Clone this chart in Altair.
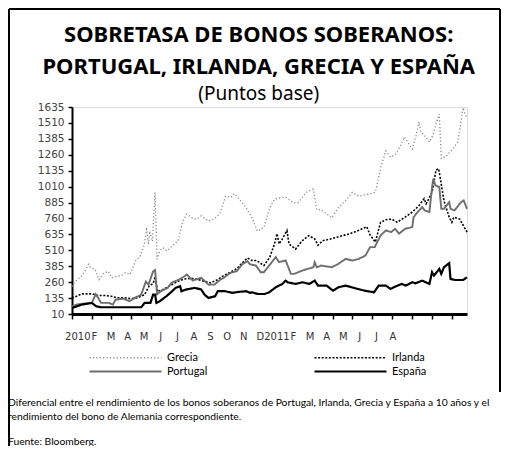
import altair as alt
import pandas as pd

# ---------------- data ----------------
grecia_fechas = ["2010-01-01","2010-01-06","2010-01-14","2010-01-21","2010-01-26","2010-01-29","2010-02-05","2010-02-11",
    "2010-02-18","2010-02-25","2010-03-02","2010-03-10","2010-03-18","2010-03-23","2010-03-30","2010-04-07","2010-04-14",
    "2010-04-21","2010-04-24","2010-04-27","2010-04-29","2010-05-03","2010-05-05","2010-05-07","2010-05-10","2010-05-14",
    "2010-05-19","2010-05-25","2010-06-02","2010-06-11","2010-06-18","2010-06-24","2010-07-02","2010-07-09","2010-07-16",
    "2010-07-27","2010-08-04","2010-08-13","2010-08-22","2010-08-30","2010-09-04","2010-09-12","2010-09-22","2010-10-02",
    "2010-10-09","2010-10-19","2010-10-28","2010-11-04","2010-11-14","2010-11-22","2010-12-02","2010-12-10","2010-12-22",
    "2011-01-02","2011-01-07","2011-01-13","2011-01-30","2011-02-09","2011-02-20","2011-03-02","2011-03-12","2011-03-25",
    "2011-04-06","2011-04-14","2011-04-22","2011-04-29","2011-05-07","2011-05-14","2011-05-20","2011-05-28","2011-06-01",
    "2011-06-07","2011-06-11","2011-06-14","2011-06-19","2011-06-27","2011-07-02","2011-07-08","2011-07-12","2011-07-15",
    "2011-07-22","2011-08-02","2011-08-09","2011-08-12","2011-08-14","2011-08-17","2011-08-20","2011-08-23"]
grecia_valores = [225,265,300,350,400,375,360,280,330,345,295,305,315,335,320,425,460,560,690,555,660,580,790,965,440,505,
    530,505,545,585,740,795,765,755,780,740,755,795,935,925,955,910,845,755,660,690,845,910,925,925,885,885,965,
    990,830,830,765,845,900,965,935,950,965,1160,1290,1240,1265,1330,1400,1336,1305,1415,1520,1440,1415,1360,1410,
    1520,1580,1230,1245,1310,1360,1455,1520,1630,1580,1550]

irlanda_fechas = ["2010-01-01","2010-01-08","2010-01-16","2010-02-01","2010-02-10","2010-02-20","2010-03-01","2010-03-10",
    "2010-03-22","2010-03-31","2010-04-10","2010-04-21","2010-04-28","2010-05-04","2010-05-07","2010-05-11","2010-05-20",
    "2010-06-01","2010-06-10","2010-06-20","2010-07-01","2010-07-12","2010-07-22","2010-07-30","2010-08-10","2010-08-20",
    "2010-08-30","2010-09-08","2010-09-16","2010-09-24","2010-10-01","2010-10-08","2010-10-19","2010-10-28","2010-11-04",
    "2010-11-08","2010-11-11","2010-11-16","2010-11-23","2010-11-26","2010-12-06","2010-12-16","2010-12-26","2011-01-04",
    "2011-01-09","2011-01-16","2011-01-29","2011-02-08","2011-02-26","2011-03-11","2011-03-24","2011-03-29","2011-04-06",
    "2011-04-14","2011-04-22","2011-05-01","2011-05-09","2011-05-21","2011-06-01","2011-06-11","2011-06-19","2011-06-22",
    "2011-07-01","2011-07-07","2011-07-11","2011-07-14","2011-07-19","2011-07-27","2011-07-31","2011-08-03","2011-08-12",
    "2011-08-23"]
irlanda_valores = [135,150,168,168,155,155,150,137,137,130,137,162,230,250,300,185,205,240,265,285,290,280,265,255,280,315,
    340,365,410,450,430,430,390,456,560,640,560,600,665,560,520,585,625,600,550,585,600,615,640,665,695,630,575,
    730,750,755,730,770,810,860,915,875,965,1140,1150,1060,900,770,730,770,755,653]

portugal_fechas = ["2010-01-01","2010-01-08","2010-01-16","2010-01-31","2010-02-06","2010-02-10","2010-02-14","2010-02-26",
    "2010-03-04","2010-03-08","2010-03-20","2010-03-29","2010-04-06","2010-04-16","2010-04-23","2010-04-27","2010-05-04",
    "2010-05-07","2010-05-10","2010-05-16","2010-05-26","2010-06-01","2010-06-12","2010-06-21","2010-06-24","2010-07-03",
    "2010-07-16","2010-07-19","2010-07-27","2010-08-05","2010-08-14","2010-08-19","2010-08-29","2010-09-08","2010-09-16",
    "2010-09-24","2010-09-28","2010-10-07","2010-10-14","2010-10-19","2010-10-29","2010-11-06","2010-11-11","2010-11-21",
    "2010-11-29","2010-12-04","2010-12-16","2011-01-02","2011-01-04","2011-01-07","2011-01-14","2011-01-30","2011-02-09",
    "2011-02-20","2011-03-02","2011-03-12","2011-03-22","2011-03-29","2011-04-05","2011-04-14","2011-04-22","2011-04-30",
    "2011-05-06","2011-05-12","2011-05-21","2011-06-01","2011-06-03","2011-06-07","2011-06-16","2011-06-20","2011-06-27",
    "2011-07-01","2011-07-03","2011-07-06","2011-07-12","2011-07-15","2011-07-19","2011-07-27","2011-07-29","2011-08-04",
    "2011-08-14","2011-08-18","2011-08-23"]
portugal_valores = [70,84,90,97,165,135,97,97,84,122,130,110,136,162,265,240,345,355,165,190,215,255,280,307,320,273,294,
    280,240,241,280,294,333,346,400,425,400,390,338,338,404,456,417,430,325,325,351,377,417,377,390,377,404,443,430,
    443,469,535,535,627,666,653,679,640,679,692,770,797,849,823,810,1007,1073,1020,1007,836,836,888,836,823,888,902,836]

espana_fechas = ["2010-01-01","2010-01-08","2010-01-16","2010-01-31","2010-02-07","2010-02-14","2010-03-01","2010-04-01",
    "2010-04-16","2010-04-21","2010-04-30","2010-05-04","2010-05-07","2010-05-09","2010-05-14","2010-05-24","2010-06-02",
    "2010-06-07","2010-06-14","2010-06-16","2010-06-23","2010-07-06","2010-07-16","2010-07-21","2010-07-27","2010-08-06",
    "2010-08-10","2010-08-21","2010-09-01","2010-09-10","2010-09-22","2010-09-28","2010-10-01","2010-10-10","2010-10-20",
    "2010-10-27","2010-11-06","2010-11-16","2010-11-21","2010-11-24","2010-12-06","2010-12-16","2010-12-27","2011-01-04",
    "2011-01-09","2011-01-22","2011-02-01","2011-02-09","2011-02-20","2011-03-01","2011-03-10","2011-03-21","2011-04-04",
    "2011-04-11","2011-04-22","2011-04-29","2011-05-04","2011-05-16","2011-05-22","2011-06-01","2011-06-06","2011-06-16",
    "2011-06-27","2011-07-01","2011-07-04","2011-07-12","2011-07-15","2011-07-19","2011-07-27","2011-07-29","2011-08-05",
    "2011-08-17","2011-08-23"]
espana_valores = [57,70,84,97,70,63,63,63,63,97,97,162,162,97,110,149,189,215,228,189,202,215,202,162,136,149,189,189,176,
    183,189,176,180,167,167,180,220,246,272,259,246,259,246,272,233,233,193,220,233,220,207,193,180,233,233,207,220,
    246,233,259,251,272,246,338,312,364,325,377,409,285,277,277,298]

paises = ["Grecia", "Irlanda", "Portugal", "España"]
meses = ["2010", "F", "M", "A", "M", "J", "J", "A", "S", "O", "N", "D",
         "2011", "F", "M", "A", "M", "J", "J", "A"]
ticks_y = [10, 135, 260, 385, 510, 635, 760, 885, 1010, 1135, 1260, 1385, 1510, 1635]

titulo1 = "SOBRETASA DE BONOS SOBERANOS:"
titulo2 = "PORTUGAL, IRLANDA, GRECIA Y ESPAÑA"
subtitulo = "(Puntos base)"
nota1 = "Diferencial entre el rendimiento de los bonos soberanos de Portugal, Irlanda, Grecia y España a 10 años y el"
nota2 = "rendimiento del bono de Alemania correspondiente."
fuente = "Fuente: Bloomberg."

# ---------------- tables ----------------
series = {
    "Grecia": (grecia_fechas, grecia_valores),
    "Irlanda": (irlanda_fechas, irlanda_valores),
    "Portugal": (portugal_fechas, portugal_valores),
    "España": (espana_fechas, espana_valores),
}
rows = []
for pais in paises:
    f, v = series[pais]
    for a, b in zip(f, v):
        rows.append({"pais": pais, "fecha": a, "valor": b})
df = pd.DataFrame(rows)
df_meses = pd.DataFrame({"mes": meses, "i": list(range(len(meses)))})

# ---------------- styles ----------------
colores = ["#8a8a8a", "#000000", "#6e6e6e", "#000000"]
trazos = [[1.2, 2.2], [2, 1.6], [1, 0], [1, 0]]
grosores = [1.3, 2.2, 3, 2]

leyenda = alt.Legend(orient="none", legendX=80, legendY=245, columns=2, direction="horizontal", title=None,
                     symbolType="M-17,0H1", symbolSize=64, labelFont="Lato", labelFontSize=11,
                     labelColor="black", labelOffset=4, columnPadding=102, rowPadding=2)

lineas = alt.Chart(df).mark_line(interpolate="linear").encode(
    x=alt.X("fecha:T",
            scale=alt.Scale(type="utc", domain=[alt.DateTime(year=2010, month=1, date=1, utc=True),
                                                alt.DateTime(year=2011, month=8, date=23, utc=True)]),
            axis=alt.Axis(title=None, labels=False, grid=False,
                          tickCount=alt.TimeIntervalStep(interval="month", step=1),
                          domainColor="black", domainWidth=3, tickColor="black", tickSize=5, tickWidth=1.5)),
    y=alt.Y("valor:Q", scale=alt.Scale(domain=[10, 1635], nice=False, zero=False),
            axis=alt.Axis(title=None, values=ticks_y, format="d", grid=False, domainColor="black", domainWidth=2,
                          tickColor="black", tickSize=4, tickWidth=1.5, labelFont="DejaVu Sans",
                          labelFontSize=10.5, labelColor="#444444", labelPadding=4)),
    color=alt.Color("pais:N", scale=alt.Scale(domain=paises, range=colores), legend=leyenda),
    strokeDash=alt.StrokeDash("pais:N", scale=alt.Scale(domain=paises, range=trazos), legend=leyenda),
    strokeWidth=alt.StrokeWidth("pais:N", scale=alt.Scale(domain=paises, range=grosores), legend=leyenda),
    order=alt.Order("fecha:T"),
)

etiquetas = alt.Chart(df_meses).mark_text(font="DejaVu Sans", fontSize=10, color="#333333").encode(
    x=alt.X("i:Q", scale=alt.Scale(domain=[-0.35, 23.46], nice=False, zero=False), axis=None),
    y=alt.value(230),
    text="mes:N",
)

def texto(t, x, y, size, weight="normal", font="Lato", align="left", baseline="middle"):
    return alt.Chart(pd.DataFrame({"t": [t]})).mark_text(
        font=font, fontSize=size, fontWeight=weight, color="black", align=align, baseline=baseline).encode(
        text="t:N", x=alt.value(x), y=alt.value(y))

def regla(**kw):
    return alt.Chart(pd.DataFrame({"k": [0]})).mark_rule(color="black", strokeWidth=2).encode(**kw)

marco_izq = regla(x=alt.value(-63), y=alt.value(-98), y2=alt.value(339))
marco_sup = regla(x=alt.value(-63), x2=alt.value(428), y=alt.value(-98))
marco_der = regla(x=alt.value(428), y=alt.value(-98), y2=alt.value(285))

t1 = texto(titulo1, 186.7, -65.5, 22, "bold", "Noto Sans", "center", "alphabetic")
t2 = texto(titulo2, 186.7, -33.5, 22, "bold", "Noto Sans", "center", "alphabetic")
t3 = texto(subtitulo, 186.7, -7, 19, "normal", "Noto Sans", "center", "alphabetic")

chart = alt.layer(
    lineas, etiquetas,
    texto(nota1, -64, 296, 10.3), texto(nota2, -64, 310, 10.3), texto(fuente, -64, 335, 10.3),
    t1, t2, t3,
    marco_izq, marco_sup, marco_der
).resolve_scale(x="independent").properties(
    width=395, height=207,
    autosize=alt.AutoSizeParams(type="none"),
    padding={"left": 64, "top": 99, "right": 34, "bottom": 132},
).configure_view(stroke=None).configure(background="white")

chart.save("out.html", embed_options={"renderer": "svg", "actions": False})
